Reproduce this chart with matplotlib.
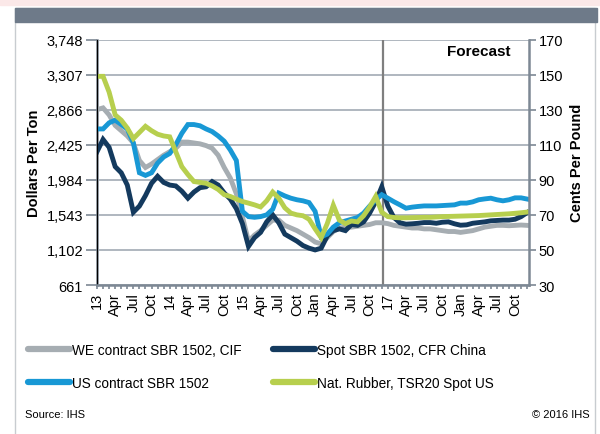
import matplotlib
matplotlib.use("Agg")
import matplotlib.pyplot as plt
from matplotlib.patches import Rectangle
from matplotlib.lines import Line2D
import numpy as np

plt.rcParams['font.family'] = ['Liberation Sans', 'DejaVu Sans']

# monthly, Jan 2013 .. Dec 2018, cents per pound
months = np.arange(72)
tick_labels = ['13', 'Apr', 'Jul', 'Oct', '14', 'Apr', 'Jul', 'Oct',
               '15', 'Apr', 'Jul', 'Oct', 'Jan', 'Apr', 'Jul', 'Oct',
               '17', 'Apr', 'Jul', 'Oct', 'Jan', 'Apr', 'Jul', 'Oct']

we_contract = [130, 131, 127, 121, 118, 115, 111, 101, 97, 99, 101.5, 104,
               106, 108, 111.5, 111.5, 111, 110.5, 109.5, 108, 104, 97, 91, 82,
               69, 55, 58.5, 61, 64, 67, 67, 64, 62.5, 61, 59, 57,
               54.5, 53.5, 57, 60.5, 62.5, 63, 63, 63.5, 64, 64.5, 65.5, 65.5,
               65, 64, 63.5, 63, 62.5, 62.5, 62, 62, 61.5, 61, 60.5, 60.5,
               60, 60.5, 61, 62, 63, 63.5, 64, 64, 63.8, 64, 64.2, 64]
spot_china = [106, 113, 108.5, 97.5, 94, 87, 71.5, 75, 81, 88, 92, 88.5,
              87, 86.5, 83.5, 79.5, 83, 85.5, 86, 89, 87, 82.5, 79, 73.5,
              65, 52, 57, 60, 66, 70, 65.5, 59, 57, 55, 52.5, 51,
              50, 51, 58, 61, 62, 61, 64.5, 64, 66, 71, 77.5, 86,
              75, 68.5, 65.5, 64.7, 64.9, 65.2, 65.6, 65.6, 65.2, 65.8, 66, 64.9,
              64.1, 64.3, 65.2, 65.6, 66, 66.6, 66.8, 67, 67, 67.5, 69, 71.3]
us_contract = [119, 119, 122.5, 124, 121.5, 119, 111, 94, 92.5, 94, 99.5, 103,
               105, 110, 116.5, 121.5, 121.5, 120.8, 119, 117.5, 115, 112, 107, 101,
               72, 69, 68.6, 69, 70, 73.2, 82.4, 80.8, 79.5, 78.6, 78, 77,
               72, 57.5, 59, 63, 65.5, 66.5, 67.5, 68.5, 71, 75, 78.5, 81.5,
               79.5, 77.5, 75.7, 73.8, 74.4, 74.8, 75.1, 75.1, 75.1, 75.3, 75.5, 75.7,
               76.7, 76.7, 77.4, 78.6, 79.1, 79.5, 78.6, 78, 78.6, 79.7, 79.7, 79]
nat_rubber = [149, 149, 140, 127, 124, 119.5, 113.5, 117, 120.5, 118, 116, 115,
              114.5, 106, 97.5, 93, 89, 88.5, 88, 86.5, 84.5, 81.5, 80.5, 79,
              77.6, 76.7, 75.7, 74.5, 78, 83, 79.5, 74, 71, 70, 69.5, 67.5,
              62, 57, 65, 75.5, 67, 65, 66.5, 66, 69.5, 74.5, 80.5, 71.5,
              69, 68.5, 68.3, 68.3, 68.4, 68.5, 68.6, 68.6, 68.8, 69, 69.1, 69.2,
              69.3, 69.4, 69.5, 69.6, 69.8, 70, 70.2, 70.4, 70.6, 70.9, 71.2, 71.6]

series = [("WE contract SBR 1502, CIF", we_contract, '#a6adb2'),
          ("Spot SBR 1502, CFR China", spot_china, '#143a5e'),
          ("US contract SBR 1502", us_contract, '#1898d5'),
          ("Nat. Rubber, TSR20 Spot US", nat_rubber, '#b7cf4e')]

cents_ticks = [30, 50, 70, 90, 110, 130, 150, 170]
dollar_ticks = [661, 1102, 1543, 1984, 2425, 2866, 3307, 3748]

axc = '#7d8894'
fig = plt.figure(figsize=(6, 4.35), dpi=100)

# page decoration: pink strip, frame, header band
fig.add_artist(Rectangle((0, 1 - 6/435), 1, 6/435, transform=fig.transFigure,
                         color='#fbe8e8', zorder=0))
fig.add_artist(Rectangle((15/600, -0.01), 580/600, 1 - 9/435 + 0.01, transform=fig.transFigure,
                         fill=False, ec='#c8ccd0', lw=1, zorder=0))
fig.add_artist(Rectangle((15/600, 1 - 23/435), 582/600, 14/435, transform=fig.transFigure,
                         color='#6e7a89', zorder=1))

ax = fig.add_axes([97/600, 1 - 286/435, 432/600, 245.5/435])
for name, vals, col in series:
    ax.plot(months, vals, color=col, lw=3.5, solid_joinstyle='miter', label=name)

ax.set_xlim(0, 71.3)
ax.set_ylim(30, 170)
ax.axvline(47.2, color='#7f7f7f', lw=1.6, zorder=1)
ax.text(63, 163.5, "Forecast", fontsize=11, fontweight='bold', ha='center', va='center')

ax.set_yticks(cents_ticks)
ax.yaxis.tick_right()
ax.yaxis.set_label_position('right')
ax.set_ylabel("Cents Per Pound", fontsize=10.5, fontweight='bold', labelpad=5)
ax.grid(axis='y', color='#9aa3ad', lw=1.1)
ax.set_axisbelow(True)

ax.set_xticks(months[::3])
ax.set_xticklabels(tick_labels, rotation=90, fontsize=10.5)
ax.set_xticks(months, minor=True)
ax.tick_params(axis='x', which='both', length=3, width=1.2, color=axc, pad=2)
ax.tick_params(axis='y', length=5, width=1.2, color=axc, labelsize=10.5, pad=2)

ax.spines['top'].set_visible(False)
for s in ['right', 'bottom']:
    ax.spines[s].set_color(axc)
    ax.spines[s].set_linewidth(1.8)

to_dollar = lambda c: 661 + (c - 30) * 22.05
to_cents = lambda d: 30 + (d - 661) / 22.05
ax2 = ax.secondary_yaxis('left', functions=(to_dollar, to_cents))
ax2.set_yticks(dollar_ticks)
ax2.set_yticklabels([f"{d:,}" for d in dollar_ticks])
ax2.tick_params(length=8, width=1.2, color=axc, labelsize=10.5, pad=2)
ax2.spines['left'].set_color(axc)
ax2.spines['left'].set_linewidth(1.8)
ax2.set_ylabel("Dollars Per Ton", fontsize=10.5, fontweight='bold', labelpad=4)

# legend: two columns placed separately, rows read across
for col, xpos in [(0, 28), (1, 273)]:
    picked = [series[col], series[col + 2]]
    handles = [Line2D([], [], color=c, lw=4.5, solid_capstyle='round') for _, _, c in picked]
    fig.legend(handles, [n for n, _, _ in picked], loc='upper left',
               bbox_to_anchor=(xpos/600, 1 - 344/435), frameon=False, fontsize=9.8,
               handlelength=3.1, handletextpad=0.1, labelspacing=1.4,
               borderpad=0, borderaxespad=0)

fig.text(25/600, 1 - 415/435, "Source: IHS", fontsize=8, va='center')
fig.text(590/600, 1 - 415/435, "\u00a9 2016 IHS", fontsize=8, va='center', ha='right')

fig.savefig("out.png", dpi=100)
